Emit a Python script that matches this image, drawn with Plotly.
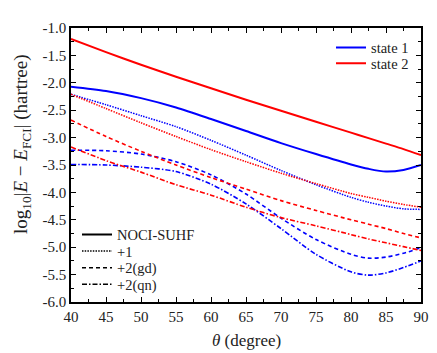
import plotly.graph_objects as go

theta = [40, 45, 50, 55, 60, 65, 70, 75, 80, 82.5, 85, 87.5, 90]

s1_noci = [-2.07, -2.15, -2.28, -2.45, -2.66, -2.88, -3.10, -3.30, -3.49, -3.57, -3.62, -3.59, -3.50]
s1_p1   = [-2.21, -2.40, -2.60, -2.80, -3.05, -3.32, -3.60, -3.86, -4.09, -4.18, -4.25, -4.30, -4.31]
s1_gd   = [-3.23, -3.24, -3.30, -3.44, -3.68, -4.03, -4.47, -4.86, -5.13, -5.20, -5.18, -5.11, -5.01]
s1_qn   = [-3.49, -3.50, -3.54, -3.62, -3.85, -4.21, -4.66, -5.13, -5.45, -5.51, -5.47, -5.37, -5.25]

s2_noci = [-1.20, -1.44, -1.67, -1.89, -2.10, -2.31, -2.51, -2.71, -2.91, -3.01, -3.11, -3.21, -3.32]
s2_p1   = [-2.21, -2.47, -2.73, -2.98, -3.22, -3.44, -3.65, -3.84, -4.02, -4.09, -4.16, -4.22, -4.27]
s2_gd   = [-2.68, -2.98, -3.25, -3.50, -3.73, -3.94, -4.15, -4.33, -4.50, -4.58, -4.66, -4.75, -4.83]
s2_qn   = [-3.17, -3.42, -3.63, -3.86, -4.05, -4.27, -4.46, -4.61, -4.77, -4.85, -4.92, -4.99, -5.06]

x_ticks = [40, 45, 50, 55, 60, 65, 70, 75, 80, 85, 90]
y_ticks = [-1.0, -1.5, -2.0, -2.5, -3.0, -3.5, -4.0, -4.5, -5.0, -5.5, -6.0]
y_ticktext = ["-1.0", "-1.5", "-2.0", "-2.5", "-3.0", "-3.5", "-4.0", "-4.5", "-5.0", "-5.5", "-6.0"]

state_names = ["state 1", "state 2"]
method_names = ["NOCI-SUHF", "+1", "+2(gd)", "+2(qn)"]

x_title = "<i>θ</i> (degree)"
y_title = "log<sub>10</sub>|<i>E</i> − <i>E</i><sub>FCI</sub>| (hartree)"

BLUE = "#0000ff"
RED = "#ff0000"
FONT = "Liberation Serif"
TXT = "#222222"

dashes = ["solid", "1.5px,1.2px", "4px,3px", "5px,2px,1.5px,2px"]
widths = [2.0, 1.5, 1.6, 1.6]

fig = go.Figure()
series = [
    (BLUE, [s1_noci, s1_p1, s1_gd, s1_qn]),
    (RED, [s2_noci, s2_p1, s2_gd, s2_qn]),
]
for color, ys in series:
    for dash, w, y in zip(dashes, widths, ys):
        fig.add_trace(go.Scatter(x=theta, y=y, mode="lines",
                                 line=dict(color=color, dash=dash, width=w, shape="spline", smoothing=0.8),
                                 showlegend=False, hoverinfo="skip"))

# page body has an 8px margin; plot box is meant to sit at (71..421, 22..302) on screen
OFF = 8
PLOT_TOP, PLOT_BOT, PLOT_L, PLOT_R = 22, 302, 71, 421
W, H = 437, 353

def py(p):
    return (PLOT_BOT - p) / (PLOT_BOT - PLOT_TOP)

def px(p):
    return (p - PLOT_L) / (PLOT_R - PLOT_L)

legend_layouts = {}
entries = [(state_names[0], BLUE, "solid", 2.0, 414, 42, "right"),
           (state_names[1], RED, "solid", 2.0, 414, 58, "right")]
for n, d, w, yc in zip(method_names, dashes, widths, [233, 250, 267, 284]):
    entries.append((n, "black", d, w, 77, yc, "left"))

for i, (name, color, dash, w, lx, yc, anc) in enumerate(entries):
    key = "legend" if i == 0 else f"legend{i + 1}"
    fig.add_trace(go.Scatter(x=[None], y=[None], mode="lines", name=name,
                             line=dict(color=color, dash=dash, width=w), legend=key))
    legend_layouts[key] = dict(x=px(lx), y=py(yc), xanchor=anc, yanchor="middle",
                               bgcolor="rgba(0,0,0,0)", font=dict(family=FONT, size=14.5, color=TXT),
                               itemwidth=30)

axis_common = dict(
    showline=True, linecolor="black", linewidth=1.5, mirror="allticks",
    ticks="inside", ticklen=5, tickwidth=1, tickcolor="black",
    showgrid=False, zeroline=False,
    tickfont=dict(family=FONT, size=15, color=TXT),
)

fig.update_layout(
    width=W, height=H,
    margin=dict(l=PLOT_L - OFF, r=W - PLOT_R + OFF, t=PLOT_TOP - OFF, b=H - PLOT_BOT + OFF),
    paper_bgcolor="white", plot_bgcolor="white",
    font=dict(family=FONT, size=15, color=TXT),
    xaxis=dict(range=[40, 90], tickvals=x_ticks, ticktext=[str(v) for v in x_ticks],
               minor=dict(ticks="inside", ticklen=3, dtick=2.5, tick0=40, tickcolor="black"),
               **axis_common),
    yaxis=dict(range=[-6, -1], tickvals=y_ticks, ticktext=y_ticktext,
               minor=dict(ticks="inside", ticklen=3, dtick=0.25, tick0=-6, tickcolor="black"),
               **axis_common),
    annotations=[
        dict(text=x_title, xref="paper", yref="paper", x=0.5, y=py(341), xanchor="center", yanchor="middle",
             showarrow=False, font=dict(family=FONT, size=17, color=TXT)),
        dict(text=y_title, xref="paper", yref="paper", x=px(22.5), y=py(141), xanchor="center", yanchor="middle",
             textangle=-90, showarrow=False, font=dict(family=FONT, size=19, color=TXT)),
    ],
    **legend_layouts,
)

fig.write_html("out.html")
